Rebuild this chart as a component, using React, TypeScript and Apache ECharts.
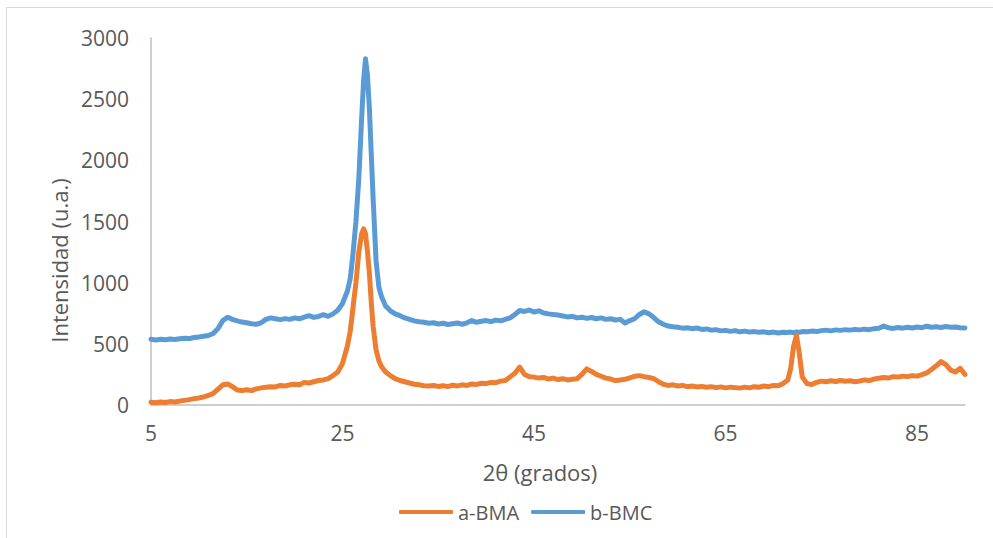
import React, { useEffect, useRef } from "react";
import * as echarts from "echarts";

// 2θ positions (degrees) shared by both diffraction patterns
const angles: number[] = [
  5, 5.5, 6, 6.5, 7, 7.5, 8, 8.5, 9, 9.5,
  10, 10.5, 11, 11.5, 12, 12.5, 13, 13.5, 14, 14.5,
  15, 15.5, 16, 16.5, 17, 17.5, 18, 18.5, 19, 19.5,
  20, 20.5, 21, 21.5, 22, 22.5, 23, 23.5, 24, 24.5,
  25, 25.5,
  25.8, 26.1, 26.4, 26.7, 27.0, 27.2, 27.4, 27.6, 27.8, 28.0, 28.2, 28.5, 28.8, 29.1, 29.5,
  30, 30.5, 31, 31.5, 32, 32.5, 33, 33.5, 34, 34.5,
  35, 35.5, 36, 36.5, 37, 37.5, 38, 38.5, 39, 39.5,
  40, 40.5, 41, 41.5, 42, 42.5, 43, 43.5, 44, 44.5,
  45, 45.5, 46, 46.5, 47, 47.5, 48, 48.5, 49, 49.5,
  50, 50.5, 51, 51.5, 52, 52.5, 53, 53.5, 54, 54.5,
  55, 55.5, 56, 56.5, 57, 57.5, 58, 58.5, 59, 59.5,
  60, 60.5, 61, 61.5, 62, 62.5, 63, 63.5, 64, 64.5,
  65, 65.5, 66, 66.5, 67, 67.5, 68, 68.5, 69, 69.5,
  70, 70.5, 71, 71.5,
  71.8, 72.1, 72.4, 72.7, 73.0,
  73.5, 74, 74.5, 75, 75.5, 76, 76.5, 77, 77.5, 78,
  78.5, 79, 79.5, 80, 80.5, 81, 81.5, 82, 82.5, 83,
  83.5, 84, 84.5, 85, 85.5, 86, 86.5, 87, 87.5, 88,
  88.5, 89, 89.5, 90,
];

// a-BMA intensity (u.a.)
const bmaValues: number[] = [
  22, 18, 25, 20, 28, 24, 32, 38, 44, 52,
  58, 66, 78, 95, 130, 165, 172, 150, 122, 118,
  125, 118, 132, 140, 145, 150, 148, 160, 155, 165,
  170, 165, 185, 180, 190, 200, 205, 215, 240, 270,
  340, 480,
  600, 800, 1000, 1250, 1400, 1440, 1400, 1260, 1080, 840, 640, 450, 360, 310, 270,
  240, 215, 200, 190, 180, 170, 165, 158, 155, 160,
  152, 158, 150, 162, 156, 165, 160, 172, 168, 178,
  175, 185, 182, 195, 200, 230, 260, 310, 250, 232,
  228, 220, 225, 212, 220, 208, 215, 205, 210, 215,
  250, 295, 275, 250, 235, 220, 212, 200, 205, 210,
  222, 235, 240, 232, 225, 215, 190, 170, 160, 165,
  155, 160, 150, 155, 148, 152, 145, 150, 142, 148,
  140, 146, 142, 138, 146, 140, 150, 145, 155, 150,
  160, 158, 175, 205,
  300, 480, 570, 420, 230,
  175, 168, 185, 195, 190, 198, 192, 200, 194, 198,
  190, 196, 205, 200, 212, 218, 225, 220, 232, 228,
  236, 232, 240, 236, 248, 262, 290, 320, 355, 330,
  285, 270, 300, 250,
];

// b-BMC intensity (u.a.)
const bmcValues: number[] = [
  537, 532, 538, 534, 540, 536, 541, 545, 543, 552,
  556, 562, 568, 585, 625, 690, 718, 700, 688, 678,
  672, 664, 660, 672, 700, 712, 705, 698, 706, 700,
  712, 705, 718, 730, 716, 724, 738, 725, 745, 775,
  830, 930,
  1030, 1240, 1500, 1850, 2350, 2650, 2830, 2700, 2430, 2050, 1680, 1180, 960, 880, 810,
  770, 745, 730, 712, 700, 688, 680, 676, 668, 672,
  662, 668, 658, 664, 670, 660, 672, 690, 676, 684,
  690, 682, 694, 688, 700, 712, 740, 772, 765, 776,
  760, 770, 752, 745, 740, 735, 728, 720, 725, 712,
  718, 708, 715, 705, 712, 700, 705, 695, 700, 670,
  690, 705, 740, 762, 745, 715, 680, 660, 645, 640,
  636, 628, 632, 624, 630, 618, 622, 612, 616, 606,
  610, 602, 608, 598, 604, 596, 600, 594, 598, 590,
  596, 588, 594, 592,
  596, 590, 598, 594, 600,
  598, 604, 600, 608, 612, 606, 614, 610, 616, 612,
  618, 614, 620, 616, 624, 628, 645, 632, 626, 634,
  628, 636, 630, 638, 632, 644, 636, 640, 634, 642,
  636, 638, 632, 630,
];

const seriesNames = ["a-BMA", "b-BMC"];
const xTicks = [5, 25, 45, 65, 85];

const FONT = "'Open Sans', 'Noto Sans', sans-serif";
const TEXT = "#595959";

export default function App() {
  const ref = useRef<HTMLDivElement>(null);

  useEffect(() => {
    if (!ref.current) return;
    const chart = echarts.init(ref.current, null, { renderer: "svg" });

    const pair = (vals: number[]) => angles.map((a, i) => [a, vals[i]]);

    chart.setOption({
      animation: false,
      backgroundColor: "#ffffff",
      textStyle: { fontFamily: FONT },
      graphic: [
        {
          type: "rect",
          shape: { x: 6.5, y: 7.5, width: 1000, height: 600 },
          style: { fill: "none", stroke: "#D9D9D9", lineWidth: 1 },
          silent: true,
        },
      ],
      grid: { left: 151, right: 28, top: 38, bottom: 133, containLabel: false },
      legend: {
        data: seriesNames,
        bottom: 11,
        left: 394,
        itemWidth: 54,
        itemHeight: 4,
        itemGap: 12,
        icon: "roundRect",
        textStyle: { fontFamily: FONT, fontSize: 20, color: TEXT },
      },
      xAxis: {
        type: "value",
        min: 5,
        max: 90,
        interval: 20,
        name: "2θ (grados)",
        nameLocation: "middle",
        nameGap: 56,
        nameTextStyle: {
          fontFamily: FONT,
          fontSize: 22,
          color: TEXT,
          padding: [0, 36, 0, 0],
        },
        axisLine: { show: true, lineStyle: { color: "#BFBFBF", width: 1.5 } },
        axisTick: { show: false },
        splitLine: { show: false },
        axisLabel: {
          fontFamily: FONT,
          fontSize: 21,
          color: TEXT,
          margin: 17,
          showMaxLabel: false,
          formatter: (v: number) => (xTicks.includes(v) ? String(v) : ""),
        },
      },
      yAxis: {
        type: "value",
        min: 0,
        max: 3000,
        interval: 500,
        name: "Intensidad (u.a.)",
        nameLocation: "middle",
        nameGap: 78,
        nameRotate: 90,
        nameTextStyle: {
          fontFamily: FONT,
          fontSize: 22,
          color: TEXT,
          padding: [0, 78, 0, 0],
        },
        axisLine: { show: true, lineStyle: { color: "#BFBFBF", width: 1.5 } },
        axisTick: { show: false },
        splitLine: { show: false },
        axisLabel: {
          fontFamily: FONT,
          fontSize: 21,
          color: TEXT,
          margin: 22,
          formatter: (v: number) => String(v),
        },
      },
      series: [
        {
          name: seriesNames[0],
          type: "line",
          data: pair(bmaValues),
          showSymbol: false,
          symbol: "none",
          z: 3,
          lineStyle: { color: "#ED7D31", width: 5, cap: "round", join: "round" },
          itemStyle: { color: "#ED7D31" },
        },
        {
          name: seriesNames[1],
          type: "line",
          data: pair(bmcValues),
          showSymbol: false,
          symbol: "none",
          z: 2,
          lineStyle: { color: "#5B9BD5", width: 5, cap: "round", join: "round" },
          itemStyle: { color: "#5B9BD5" },
        },
      ],
    });

    return () => chart.dispose();
  }, []);

  return (
    <div
      ref={ref}
      style={{ position: "fixed", left: 0, top: 0, width: 993, height: 538 }}
    />
  );
}
